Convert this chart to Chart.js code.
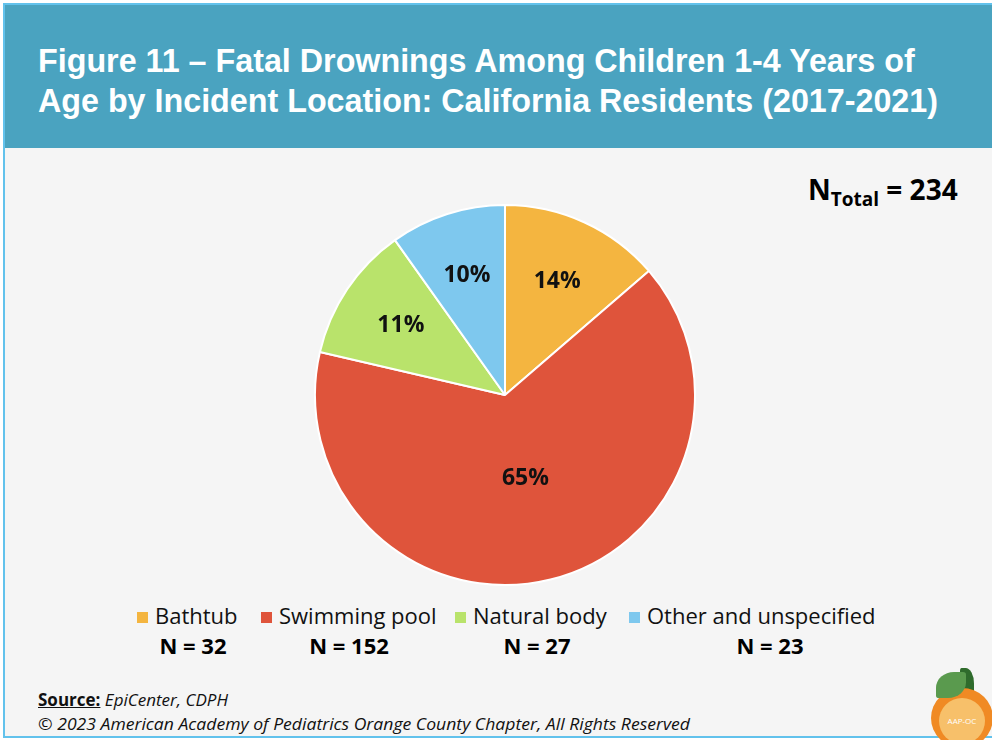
<!DOCTYPE html>
<html>
<head>
<meta charset="utf-8">
<script src="https://cdn.jsdelivr.net/npm/chart.js@4.4.1/dist/chart.umd.min.js"></script>
<style>
  html, body { margin: 0; padding: 0; width: 992px; height: 740px; overflow: hidden; background: #ffffff; }
  body { font-family: "Open Sans", sans-serif; }
  #frame { position: absolute; left: 3px; top: 3px; width: 1000px; height: 731px; border: 2px solid #62c2ec; background: #f5f5f5; }
  #header { position: absolute; left: 0; top: 0; width: 1000px; height: 143px; background: #4aa3c0; }
  #title { position: absolute; left: 33px; top: 35px; color: #fff; font-family: "Liberation Sans", Arial, sans-serif; font-weight: bold; font-size: 34px; line-height: 40px; white-space: nowrap; transform-origin: 0 0; }
  #ntotal { position: absolute; left: 808px; top: 170px; font-weight: bold; font-size: 28px; color: #000; white-space: nowrap; }
  #ntotal sub { font-size: 19px; vertical-align: -6px; }
  #chartBox { position: absolute; left: 314px; top: 204px; }
  .leg { position: absolute; top: 600px; font-size: 22px; color: #111; white-space: nowrap; }
  .leg i { display: inline-block; width: 11px; height: 11px; margin-right: 7px; vertical-align: 1px; }
  .nval { position: absolute; top: 630px; font-size: 22px; font-weight: bold; color: #000; white-space: nowrap; transform: translateX(-50%); }
  #source { position: absolute; left: 38px; top: 688px; font-size: 17px; color: #111; white-space: nowrap; }
  #source b { text-decoration: underline; }
  #copy { position: absolute; left: 38px; top: 712px; font-size: 17px; font-style: italic; color: #111; white-space: nowrap; transform-origin: 0 0; }
  #logo { position: absolute; left: 931px; top: 688px; width: 62px; height: 60px; border-radius: 50%; background: #f08a24; }
  #logo div { position: absolute; left: 8px; top: 10px; width: 46px; height: 46px; border-radius: 50%; background: #f7c06a; font-size: 8px; color: #fff; text-align: center; line-height: 46px; }
  #leaf { position: absolute; left: 936px; top: 672px; width: 30px; height: 26px; border-radius: 60% 10% 60% 10%; background: #5a9a4e; }
  #leaf2 { position: absolute; left: 960px; top: 668px; width: 14px; height: 26px; border-radius: 10% 60% 10% 60%; background: #2f6b2c; }
</style>
</head>
<body>
<div id="frame">
  <div id="header">
    <div id="title">Figure 11 – Fatal Drownings Among Children 1-4 Years of<br>Age by Incident Location: California Residents (2017-2021)</div>
  </div>
</div>
<div id="ntotal">N<sub>Total</sub> = 234</div>
<div id="chartBox"><canvas id="pie" width="382" height="382"></canvas></div>
<div id="legend"></div>
<div id="source"><b>Source:</b> <i>EpiCenter, CDPH</i></div>
<div id="copy">© 2023 American Academy of Pediatrics Orange County Chapter, All Rights Reserved</div>
<div id="leaf2"></div>
<div id="logo"><div>AAP-OC</div></div>
<div id="leaf"></div>
<script>
// Chart data
const categories = ['Bathtub', 'Swimming pool', 'Natural body', 'Other and unspecified'];
const counts = [32, 152, 27, 23];
const percentLabels = ['14%', '65%', '11%', '10%'];
const colors = ['#f4b540', '#df543b', '#b9e36b', '#7ec8ee'];

// Legend positions (left edge of each legend entry, centre of the N label)
const legendX = [137, 261, 455, 629];
const nCentreX = [193, 349, 537, 770];

// Squeeze text to the widths of the condensed font in the original
function fitWidth(id, target) {
    const el = document.getElementById(id);
    const w = el.getBoundingClientRect().width;
    el.style.transform = 'scaleX(' + (target / w) + ')';
}
fitWidth('title', 900);
fitWidth('copy', 652);

// Build the html legend from the arrays
const legend = document.getElementById('legend');
categories.forEach((name, i) => {
    const item = document.createElement('div');
    item.className = 'leg';
    item.style.left = legendX[i] + 'px';
    item.innerHTML = '<i style="background:' + colors[i] + '"></i>' + name;
    legend.appendChild(item);

    const n = document.createElement('div');
    n.className = 'nval';
    n.style.left = nCentreX[i] + 'px';
    n.textContent = 'N = ' + counts[i];
    legend.appendChild(n);
});

// Draws the percentage labels inside each slice
const sliceLabels = {
    id: 'sliceLabels',
    afterDatasetsDraw(chart) {
        const ctx = chart.ctx;
        const meta = chart.getDatasetMeta(0);
        ctx.save();
        ctx.font = 'bold 23px "Open Sans", sans-serif';
        ctx.fillStyle = '#111';
        ctx.textAlign = 'center';
        ctx.textBaseline = 'middle';
        meta.data.forEach((arc, i) => {
            const props = arc.getProps(['x', 'y', 'startAngle', 'endAngle', 'outerRadius']);
            const mid = (props.startAngle + props.endAngle) / 2;
            // big slice label sits closer to the centre
            const frac = counts[i] > 100 ? 0.45 : 0.66;
            const r = props.outerRadius * frac;
            ctx.fillText(percentLabels[i], props.x + Math.cos(mid) * r, props.y + Math.sin(mid) * r);
        });
        ctx.restore();
    }
};

new Chart(document.getElementById('pie'), {
    type: 'pie',
    data: {
        labels: categories,
        datasets: [{
            data: counts,
            backgroundColor: colors,
            borderColor: '#ffffff',
            borderWidth: 2
        }]
    },
    options: {
        responsive: false,
        animation: false,
        layout: { padding: 0 },
        plugins: {
            legend: { display: false },
            tooltip: { enabled: false }
        }
    },
    plugins: [sliceLabels]
});
</script>
</body>
</html>
